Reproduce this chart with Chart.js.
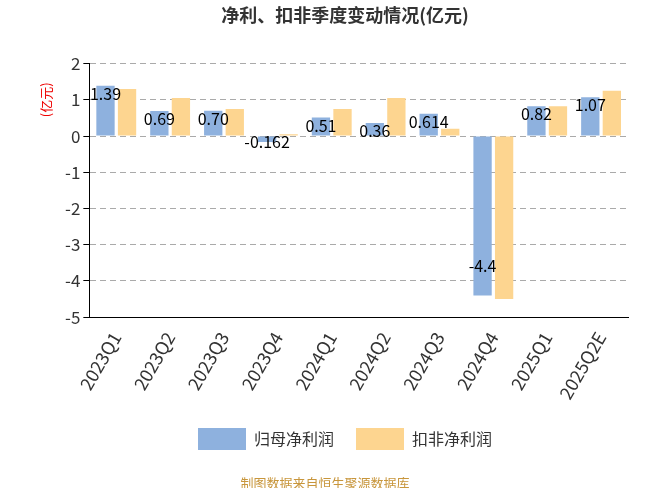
<!DOCTYPE html><html><head><meta charset="utf-8">
<script src="https://cdn.jsdelivr.net/npm/chart.js@4"></script>
<style>body{margin:0;background:#fff}#w{width:650px;height:488px;position:relative}</style></head><body>
<div id="w"><canvas id="c" width="650" height="488"></canvas></div>
<script>
const categories=['2023Q1','2023Q2','2023Q3','2023Q4','2024Q1','2024Q2','2024Q3','2024Q4','2025Q1','2025Q2E'];
const netProfit=[1.39,0.69,0.70,-0.162,0.51,0.36,0.614,-4.4,0.82,1.07];
const netLabels=['1.39','0.69','0.70','-0.162','0.51','0.36','0.614','-4.4','0.82','1.07'];
const deducted=[1.30,1.05,0.75,0.05,0.75,1.05,0.20,-4.5,0.82,1.25];
const F='"Noto Sans CJK SC","Noto Sans",sans-serif';
const labelPlugin={id:'lb',afterDatasetsDraw(ch){const ctx=ch.ctx;const m=ch.getDatasetMeta(0);ctx.save();ctx.font='16px '+F;ctx.fillStyle='#000';ctx.textAlign='center';ctx.textBaseline='middle';
m.data.forEach((b,i)=>{ctx.fillText(netLabels[i],b.x,b.y+ (netProfit[i]<0&&netProfit[i]>-1?0:(netProfit[i]<-1?-30:8)));});
ctx.restore();
ctx.save();ctx.font='13px '+F;ctx.fillStyle='#e00';ctx.translate(46,ch.scales.y.getPixelForValue(1));ctx.rotate(-Math.PI/2);ctx.textAlign='center';ctx.textBaseline='middle';ctx.fillText('(亿元)',0,0);ctx.restore();}};
new Chart(document.getElementById('c'),{type:'bar',data:{labels:categories,datasets:[
{label:'归母净利润',data:netProfit,backgroundColor:'#8eb1de',categoryPercentage:0.8,barPercentage:0.85},
{label:'扣非净利润',data:deducted,backgroundColor:'#fdd590',categoryPercentage:0.8,barPercentage:0.85}]},
options:{responsive:false,animation:false,layout:{padding:{left:62,right:22,bottom:28}},
plugins:{title:{display:true,text:'净利、扣非季度变动情况(亿元)',font:{size:18,weight:'bold',family:F},color:'#333',padding:{top:4,bottom:38}},
legend:{position:'bottom',labels:{font:{size:16,family:F},color:'#333',boxWidth:48,boxHeight:22,padding:22}},tooltip:{enabled:false}},
scales:{x:{grid:{display:false},border:{color:'#000'},ticks:{font:{size:18,family:F},color:'#333',maxRotation:60,minRotation:60}},
y:{min:-5,max:2,ticks:{stepSize:1,font:{size:17,family:F},color:'#333'},border:{color:'#000',dash:[6,4]},grid:{color:'#aaa',tickColor:'#000',tickLength:6}}}},
plugins:[labelPlugin,
{id:'foot',afterDraw(ch){const c=ch.ctx;c.save();c.font='13px '+F;c.fillStyle='#c8963c';c.textAlign='center';c.fillText('制图数据来自恒生聚源数据库',325,483);c.restore();}}]});
</script>
</body></html>
